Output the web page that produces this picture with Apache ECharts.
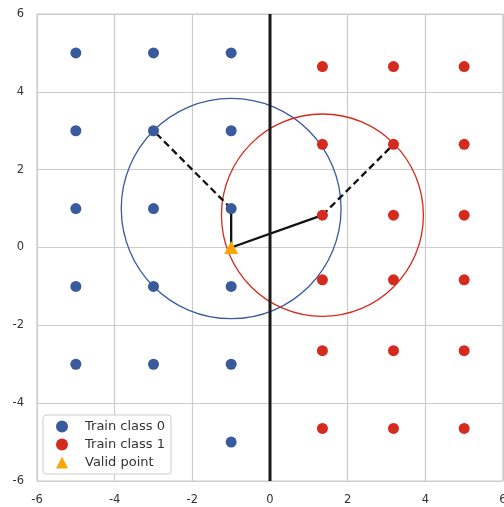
<!DOCTYPE html>
<html><head><meta charset="utf-8">
<script src="https://cdn.jsdelivr.net/npm/echarts@6/dist/echarts.min.js"></script>
<style>html,body{margin:0;padding:0;background:#fff}#c{width:504px;height:507px}</style>
</head><body><div id="c"></div>
<script>
const class0 = [[-5,5],[-5,3],[-5,1],[-5,-1],[-5,-3],[-3,5],[-3,3],[-3,1],[-3,-1],[-3,-3],[-1,5],[-1,3],[-1,1],[-1,-1],[-1,-3],[-1,-5]];
const class1X = [1.35, 3.18, 5.0];
const class1Y = [4.65, 2.65, 0.83, -0.83, -2.65, -4.65];
const validPoint = [[-1, 0]];
const neighborSolid = [[[-1,0],[-1,1]], [[-1,0],[1.35,0.83]]];
const neighborDashed = [[[-1,1],[-3,3]], [[1.35,0.83],[3.18,2.65]]];
const circles = [{c:[-1,1], r:2.83, color:'#3a5a9e'}, {c:[1.35,0.83], r:2.6, color:'#d52b1e'}];
const divider = [[0,-6],[0,6]];

const class1 = [];
class1X.forEach(x => class1Y.forEach(y => class1.push([x,y])));

const BLUE = '#3a5a9e', RED = '#d52b1e', ORANGE = '#ffa500';
const font = 'DejaVu Sans';

const series = [];
circles.forEach((c,i) => series.push({
  type:'custom', name:'circle'+i, z:3, silent:true,
  data:[[c.c[0], c.c[1], c.r]],
  renderItem:(params, api) => {
    const p = api.coord([api.value(0), api.value(1)]);
    const s = api.size([api.value(2), api.value(2)]);
    return {type:'ellipse', shape:{cx:p[0], cy:p[1], rx:s[0], ry:s[1]},
      style:{fill:'none', stroke:c.color, lineWidth:1.3}};
  }
}));
neighborDashed.forEach(seg => series.push({type:'line', data:seg, z:4, symbol:'none', silent:true,
  lineStyle:{color:'#111', width:2.3, type:[7,4]}}));
neighborSolid.forEach(seg => series.push({type:'line', data:seg, z:4, symbol:'none', silent:true,
  lineStyle:{color:'#111', width:2.3}}));
series.push({type:'line', data:divider, z:4, symbol:'none', silent:true, lineStyle:{color:'#1a1a1a', width:3}});
series.push({type:'scatter', name:'Train class 0', data:class0, symbol:'circle', symbolSize:11, z:5, itemStyle:{color:BLUE, opacity:1}});
series.push({type:'scatter', name:'Train class 1', data:class1, symbol:'circle', symbolSize:11, z:5, itemStyle:{color:RED, opacity:1}});
series.push({type:'scatter', name:'Valid point', data:validPoint, symbol:'triangle', symbolSize:[14,13], z:6, itemStyle:{color:ORANGE, opacity:1}});

const labelStyle = {color:'#333', fontFamily:font, fontSize:11.5};
const axisCommon = {
  type:'value', min:-6, max:6, interval:2,
  axisLine:{show:false}, axisTick:{show:false},
  splitLine:{show:true, lineStyle:{color:'#cccccc', width:1.2}}
};

const chart = echarts.init(document.getElementById('c'), null, {renderer:'canvas'});
chart.setOption({
  animation:false,
  backgroundColor:'#fff',
  grid:{left:37, right:1, top:14, bottom:26, show:true, borderColor:'#cccccc', borderWidth:1.2, outerBoundsMode:'none', containLabel:false},
  xAxis:Object.assign({}, axisCommon, {axisLabel:Object.assign({}, labelStyle, {margin:13})}),
  yAxis:Object.assign({}, axisCommon, {axisLabel:Object.assign({}, labelStyle, {margin:13})}),
  legend:{
    orient:'vertical', left:43, top:415,
    padding:[5,6,5,13], itemWidth:12, itemHeight:12, itemGap:5,
    backgroundColor:'#fff', borderColor:'#cccccc', borderWidth:1, borderRadius:3,
    textStyle:{color:'#333', fontFamily:font, fontSize:13, padding:[0,0,0,12]},
    data:[{name:'Train class 0', icon:'circle'},{name:'Train class 1', icon:'circle'},{name:'Valid point', icon:'triangle'}]
  },
  series
});
</script></body></html>
